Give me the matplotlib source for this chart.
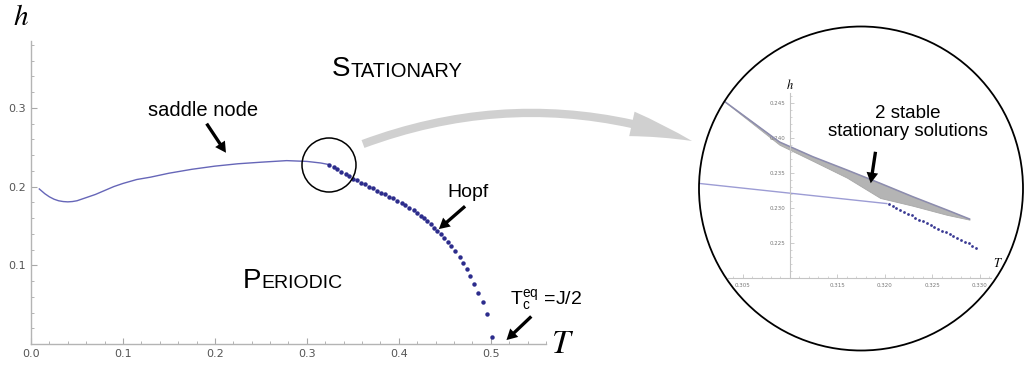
import numpy as np
import matplotlib.pyplot as plt
from matplotlib.patches import Circle, FancyArrowPatch
from matplotlib.ticker import MultipleLocator

# main phase diagram (T, h)
sn_T = [0.009, 0.015, 0.020, 0.025, 0.030, 0.035, 0.040, 0.045, 0.050, 0.060,
        0.070, 0.080, 0.090, 0.100, 0.115, 0.130, 0.150, 0.175, 0.200, 0.225,
        0.250, 0.278, 0.300, 0.315, 0.324]
sn_h = [0.197, 0.191, 0.187, 0.184, 0.182, 0.181, 0.1806, 0.181, 0.182, 0.186,
        0.190, 0.195, 0.200, 0.204, 0.209, 0.212, 0.217, 0.222, 0.226, 0.229,
        0.231, 0.233, 0.232, 0.230, 0.228]

hopf_T = [0.324, 0.329, 0.333, 0.337, 0.342, 0.346, 0.350, 0.355, 0.359, 0.363,
          0.368, 0.372, 0.376, 0.381, 0.385, 0.389, 0.394, 0.398, 0.403, 0.407,
          0.411, 0.416, 0.420, 0.424, 0.427, 0.431, 0.435, 0.438, 0.442, 0.446,
          0.449, 0.453, 0.457, 0.461, 0.466, 0.470, 0.474, 0.477, 0.482, 0.486,
          0.491, 0.496, 0.501]
hopf_h = [0.228, 0.225, 0.222, 0.219, 0.216, 0.213, 0.210, 0.208, 0.205, 0.203,
          0.200, 0.198, 0.195, 0.192, 0.190, 0.187, 0.185, 0.182, 0.179, 0.176,
          0.173, 0.170, 0.166, 0.163, 0.160, 0.156, 0.152, 0.148, 0.144, 0.140,
          0.135, 0.130, 0.125, 0.118, 0.111, 0.103, 0.095, 0.087, 0.076, 0.065,
          0.054, 0.038, 0.009]

x_ticks = [0.0, 0.1, 0.2, 0.3, 0.4, 0.5]
x_labels = ["0.0", "0.1", "0.2", "0.3", "0.4", "0.5"]
y_ticks = [0.1, 0.2, 0.3]
y_labels = ["0.1", "0.2", "0.3"]

# zoomed region near the junction
band_T = [0.3029, 0.3089, 0.3124, 0.3160, 0.3195, 0.3229, 0.3265, 0.3289]
band_up = [0.2455, 0.2395, 0.2374, 0.2355, 0.2336, 0.2317, 0.2298, 0.2285]
band_lo = [0.2455, 0.2391, 0.2368, 0.2344, 0.2315, 0.2304, 0.2291, 0.2284]
low_T = [0.3003, 0.3202]
low_h = [0.2336, 0.2307]
zdot_T = [0.3204, 0.3208, 0.3212, 0.3216, 0.3220, 0.3224, 0.3228, 0.3232,
          0.3236, 0.3240, 0.3244, 0.3248, 0.3252, 0.3256, 0.3260, 0.3264,
          0.3268, 0.3272, 0.3276, 0.3280, 0.3284, 0.3288, 0.3292, 0.3296]
zdot_h = [0.2306, 0.2303, 0.2300, 0.2298, 0.2295, 0.2292, 0.2290, 0.2287,
          0.2284, 0.2282, 0.2279, 0.2276, 0.2274, 0.2271, 0.2268, 0.2266,
          0.2263, 0.2260, 0.2258, 0.2255, 0.2252, 0.2250, 0.2247, 0.2244]
zx_ticks = [0.305, 0.310, 0.315, 0.320, 0.325, 0.330]
zx_labels = ["0.305", "", "0.315", "0.320", "0.325", "0.330"]
zy_ticks = [0.225, 0.230, 0.235, 0.240, 0.245]
zy_labels = ["0.225", "0.230", "0.235", "0.240", "0.245"]

plt.rcParams['mathtext.fontset'] = 'stix'
sans = 'Liberation Sans'
axis_col = '#b4b4b4'

fig = plt.figure(figsize=(10.24, 3.71), dpi=100)

# ---- main axes
ax = fig.add_axes([31 / 1024, 27 / 371, 515 / 1024, 303 / 371])
ax.set_xlim(0, 0.56)
ax.set_ylim(0, 0.385)
ax.patch.set_visible(False)
for s in ['top', 'right']:
    ax.spines[s].set_visible(False)
for s in ['left', 'bottom']:
    ax.spines[s].set_color(axis_col)
    ax.spines[s].set_linewidth(1.0)
ax.set_xticks(x_ticks, x_labels)
ax.set_yticks(y_ticks, y_labels)
ax.xaxis.set_minor_locator(MultipleLocator(0.02))
ax.yaxis.set_minor_locator(MultipleLocator(0.02))
ax.tick_params(which='both', direction='in', color='#a8a8a8', labelcolor='#555555',
               labelsize=8)
ax.tick_params(which='major', length=4, width=0.8)
ax.tick_params(which='minor', length=2, width=0.6)

ax.plot(sn_T, sn_h, color='#6666b8', lw=1.0)
ax.plot(hopf_T, hopf_h, 'o', ms=3.2, color='#2c2c8c', mec='none')


def small_caps(x, y, first, rest, big, small):
    t = ax.text(x, y, first, fontsize=big, family=sans, va='baseline')
    ax.annotate(rest, xy=(1, 0), xycoords=t, xytext=(0.3, big * 0.21),
                textcoords='offset points', fontsize=small, family=sans,
                va='baseline')


small_caps(0.327, 0.340, "S", "TATIONARY", 20, 14.5)
small_caps(0.230, 0.071, "P", "ERIODIC", 20, 14)

arrow_k = dict(arrowstyle='simple,head_length=0.55,head_width=0.6,tail_width=0.17',
               fc='k', ec='k', lw=0, shrinkA=0, shrinkB=0, mutation_scale=14)
ax.text(0.127, 0.290, "saddle node", fontsize=14.5, family=sans)
ax.annotate("", xy=(0.212, 0.243), xytext=(0.191, 0.280), arrowprops=arrow_k)
ax.text(0.453, 0.187, "Hopf", fontsize=14, family=sans)
ax.annotate("", xy=(0.4435, 0.146), xytext=(0.472, 0.175), arrowprops=arrow_k)
ax.text(0.521, 0.050, r"T$_\mathregular{c}^\mathregular{eq}$ =J/2", fontsize=14,
        family=sans)
ax.annotate("", xy=(0.517, 0.005), xytext=(0.544, 0.035), arrowprops=arrow_k)

# ---- overlay in pixel coordinates for decorations
ov = fig.add_axes([0, 0, 1, 1])
ov.set_xlim(0, 1024)
ov.set_ylim(371, 0)
ov.axis('off')
ov.text(13, 25, "$h$", fontsize=21)
ov.text(551, 353, "$T$", fontsize=24)
ov.add_patch(Circle((329, 165), 27, fill=False, ec='k', lw=1.1))
ov.add_patch(FancyArrowPatch((363, 144), (692, 141),
                             connectionstyle='arc3,rad=-0.18',
                             arrowstyle='simple,head_length=45,head_width=18,tail_width=6',
                             mutation_scale=1, color='#d0d0d0', lw=0,
                             shrinkA=0, shrinkB=0))

# ---- zoom inset clipped to a circle
ax2 = fig.add_axes([699 / 1024, (371 - 350.5) / 371, 324 / 1024, 324 / 371])
ax2.set_xlim(0.30042, 0.33453)
ax2.set_ylim(0.20971, 0.25600)
ax2.patch.set_visible(False)
circ = Circle((0.5, 0.5), 0.5, transform=ax2.transAxes, fill=False, ec='k',
              lw=1.3, clip_on=False, zorder=5)
ax2.add_patch(circ)

for s in ['top', 'right']:
    ax2.spines[s].set_visible(False)
ax2.spines['left'].set_position(('data', 0.31))
ax2.spines['bottom'].set_position(('data', 0.22))
ax2.spines['left'].set_bounds(0.22, 0.2465)
ax2.spines['bottom'].set_bounds(0.3035, 0.3312)
for s in ['left', 'bottom']:
    ax2.spines[s].set_color('#c4c4c4')
    ax2.spines[s].set_linewidth(0.8)
ax2.set_xticks(zx_ticks, zx_labels)
ax2.set_yticks(zy_ticks, zy_labels)
ax2.set_xticks(np.round(np.arange(0.304, 0.3312, 0.001), 4), minor=True)
ax2.set_yticks(np.round(np.arange(0.221, 0.2465, 0.001), 4), minor=True)
ax2.tick_params(which='both', direction='in', color='#c4c4c4', labelcolor='#777777',
                labelsize=4, pad=3)
ax2.tick_params(which='major', length=3, width=0.6)
ax2.tick_params(which='minor', length=1.5, width=0.5)

lines = []
lines.append(ax2.fill_between(band_T, band_lo, band_up, color='#b4b4b4', lw=0.6,
                              ec='#a8a8a8'))
lines += ax2.plot(band_T, band_up, color='#8c8cae', lw=1.1)
lines += ax2.plot(low_T, low_h, color='#9c9cd4', lw=1.0)
lines += ax2.plot(zdot_T, zdot_h, 'o', ms=2.0, color='#3a3a94', mec='none')
for a in lines:
    a.set_clip_path(circ)

ax2.text(0.31, 0.2467, "$h$", fontsize=9, ha='center', va='bottom')
ax2.text(0.3314, 0.2212, "$T$", fontsize=9, ha='left', va='bottom')
ax2.text(0.3224, 0.2429, "2 stable", fontsize=13.5, family=sans, ha='center',
         va='baseline')
ax2.text(0.3224, 0.2403, "stationary solutions", fontsize=13.5, family=sans,
         ha='center', va='baseline')
ax2.annotate("", xy=(0.3185, 0.2336), xytext=(0.3190, 0.2381), arrowprops=arrow_k)

fig.savefig("out.png", dpi=100)
